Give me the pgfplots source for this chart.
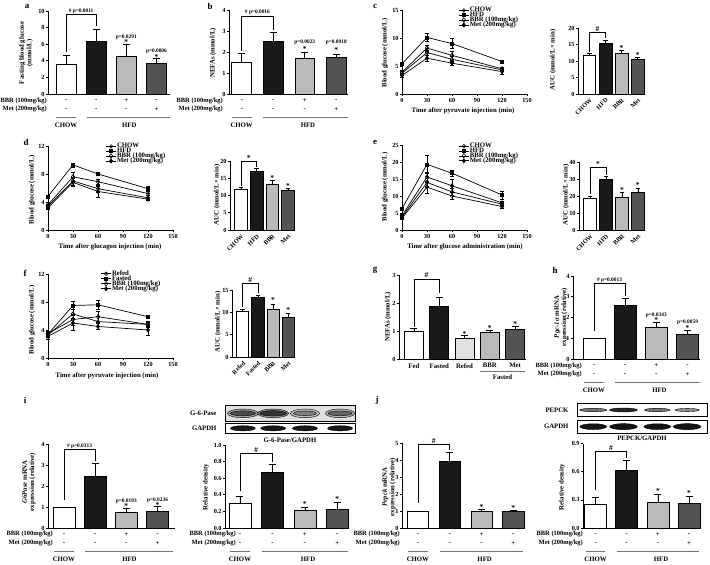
\documentclass[border=0pt]{standalone}
\usepackage{pgfplots}
\pgfplotsset{compat=1.18}
\usepackage{fontspec}
\setmainfont{Liberation Serif}
\newcommand{\fT}{\fontsize{6.3}{6.3}\selectfont\bfseries}
\newcommand{\fL}{\fontsize{6.8}{7.4}\selectfont\bfseries}
\newcommand{\fR}{\fontsize{6.5}{7}\selectfont\bfseries}
\newcommand{\fP}{\fontsize{5.4}{5.6}\selectfont\bfseries}
\newcommand{\fS}{\fontsize{7.5}{7.5}\selectfont\bfseries}
\newcommand{\fB}{\fontsize{9}{9}\selectfont\bfseries}
\tikzset{pv/.style={font=\fP, inner sep=0}, st/.style={font=\fS, inner sep=0}}
\pgfplotsset{
 base/.style={scale only axis, clip=false, anchor=south west, axis lines=left,
   axis line style={-, line width=0.8bp},
   every tick/.style={black, line width=0.6bp}, tick align=outside, major tick length=2.2bp,
   tick label style={font=\fT}, /pgf/number format/assume math mode=true,
   yticklabel style={inner sep=1bp}, xticklabel style={inner sep=1.5bp}},
 lineax/.style={base, xmin=0, xmax=150, xtick={0,30,60,90,120,150}, ymin=0,
   legend style={at={(#1)}, anchor=north west, draw=none, fill=none, font=\fL,
     row sep=-2.4bp, inner sep=0pt, nodes={inner sep=0.6bp}},
   legend cell align=left,
   legend image code/.code={\draw[mark repeat=2,mark phase=2,##1] plot coordinates {(0bp,0bp) (5bp,0bp) (10bp,0bp)};}},
 aucax/.style={base, ymin=0, xmin=-0.7, xmax=3.45, bar width=0.8, xtick={0,1,2,3},
   xtick style={draw=none}, xticklabel style={rotate=45, anchor=north east, inner sep=1bp}},
 barax/.style={base, ymin=0, xtick=\empty},
 bstyle/.style={ybar, bar shift=0pt, draw=black, line width=0.6bp,
   error bars/y dir=plus, error bars/y explicit,
   error bars/error bar style={line width=0.6bp, black},
   error bars/error mark options={rotate=90, mark size=3.5bp, line width=0.6bp, black}},
 bstylesm/.style={bstyle, error bars/error mark options={rotate=90, mark size=2.3bp, line width=0.6bp, black}},
 lnbase/.style={black, line width=0.7bp,
   error bars/y dir=both, error bars/y explicit,
   error bars/error bar style={line width=0.5bp, solid},
   error bars/error mark options={rotate=90, mark size=2bp, line width=0.5bp, solid}},
 sA/.style={lnbase, mark=o, mark size=1.8bp, mark options={fill=white, solid, line width=0.6bp}},
 sB/.style={lnbase, mark=square*, mark size=1.5bp, mark options={fill=black, solid}},
 sC/.style={lnbase, mark=diamond, mark size=2.3bp, mark options={fill=white, solid, line width=0.6bp}},
 sD/.style={lnbase, mark=diamond*, mark size=2bp, mark options={fill=black, solid}},
 blot/.style={scale only axis, anchor=south west, xmin=0, xmax=4, ymin=0, ymax=1,
   xtick=\empty, ytick=\empty, axis line style={line width=0.8bp}, clip=true},
}
\newcommand{\bb}[4]{\addplot[fill=#1, bstyle] coordinates {(#2,#3) +- (0,#4)};}
\newcommand{\bs}[4]{\addplot[fill=#1, bstylesm] coordinates {(#2,#3) +- (0,#4)};}
\newcommand{\brk}[4]{\draw[line width=0.6bp] (axis cs:0,#1) -- (axis cs:0,#2) -- (axis cs:1,#2) -- (axis cs:1,#3);
 \node[font=\fP, anchor=south, inner sep=0.8bp] at (axis cs:0.5,#2) {#4};}
\newcommand{\rowsig}[3]{\node[font=\fL, inner sep=0] at ([yshift=-6.8bp]axis cs:#1,0) {#2};
 \node[font=\fL, inner sep=0] at ([yshift=-15.2bp]axis cs:#1,0) {#3};}
\newcommand{\stdrows}[1]{\rowsig{0}{-}{-}\rowsig{1}{-}{-}\rowsig{2}{+}{-}\rowsig{3}{-}{+}
 \draw[black!55, line width=0.6bp] ([yshift=-23.5bp]axis cs:-0.32,0) -- ([yshift=-23.5bp]axis cs:0.32,0);
 \draw[black!55, line width=0.6bp] ([yshift=-23.5bp]axis cs:0.68,0) -- ([yshift=-23.5bp]axis cs:#1,0);
 \node[font=\fL, inner sep=0] at ([yshift=-31bp]axis cs:0,0) {CHOW};
 \node[font=\fL, inner sep=0] at ([yshift=-31bp]axis cs:2.1,0) {HFD};}
\newcommand{\rowlab}[3]{\node[font=\fR, anchor=east, inner sep=0] at (#1bp,#2bp) {BBR (100mg/kg)};
 \node[font=\fR, anchor=east, inner sep=0] at (#1bp,#3bp) {Met (200mg/kg)};}
\newcommand{\band}[4]{\addplot[only marks, mark=*, mark size=#3, mark options={draw=none, fill=black!#2, xscale=#4}] coordinates {(#1,0.5)};}
\begin{document}
\bfseries
\begin{tikzpicture}
\path[use as bounding box] (0,0) rectangle (710bp,565bp);
% letters
\node[font=\fB] at (27bp,559bp) {a};
\node[font=\fB] at (210bp,559bp) {b};
\node[font=\fB] at (375bp,559bp) {c};
\node[font=\fB] at (26bp,423bp) {d};
\node[font=\fB] at (375bp,423bp) {e};
\node[font=\fB] at (25bp,292bp) {f};
\node[font=\fB] at (375bp,295bp) {g};
\node[font=\fB] at (555bp,295bp) {h};
\node[font=\fB] at (25bp,165bp) {i};
\node[font=\fB] at (377bp,165bp) {j};

% ---------- a ----------
\begin{axis}[barax, at={(48bp,471bp)}, width=122bp, height=83bp, ymax=10, ytick={0,2,4,6,8,10},
  xmin=-0.6, xmax=3.45, bar width=0.68]
\bb{white}{0}{3.6}{1.05}
\bb{black!90}{1}{6.35}{1.4}
\bb{black!27}{2}{4.5}{1.45}
\bb{black!67}{3}{3.75}{0.55}
\brk{5.1}{9.6}{8.2}{\# p=0.0011}
\node[pv] at (axis cs:2,6.8) {p=0.0291}; \node[st] at (axis cs:2,6.2) {*};
\node[pv] at (axis cs:3,5.1) {p=0.0006}; \node[st] at (axis cs:3,4.5) {*};
\stdrows{3.45}
\end{axis}
\rowlab{47}{464.3}{456}
\node[font=\fL, rotate=90, align=center] at (26bp,512bp) {Fasting blood glucose\\(mmol/L)};

% ---------- b ----------
\begin{axis}[barax, at={(229bp,471bp)}, width=119bp, height=84bp, ymax=4, ytick={0,1,2,3,4},
  xmin=-0.4, xmax=3.37, bar width=0.63]
\bb{white}{0}{1.52}{0.42}
\bb{black!90}{1}{2.5}{0.42}
\bb{black!27}{2}{1.7}{0.28}
\bb{black!67}{3}{1.77}{0.13}
\brk{2.05}{3.72}{3.05}{\# p=0.0016}
\node[pv] at (axis cs:2,2.45) {p=0.0023}; \node[st] at (axis cs:2,2.15) {*};
\node[pv] at (axis cs:3,2.45) {p=0.0018}; \node[st] at (axis cs:3,2.1) {*};
\stdrows{3.37}
\end{axis}
\rowlab{223}{464.3}{456}
\node[font=\fL, rotate=90] at (213bp,512bp) {NEFAs (mmol/L)};

% ---------- c line ----------
\begin{axis}[lineax={0.45,1.04}, at={(402bp,471bp)}, width=125bp, height=84bp, ymax=15, ytick={0,5,10,15}]
\addplot[sA] coordinates {(0,3.7) +- (0,0.3) (30,7.4) +- (0,0.5) (60,6.2) +- (0,0.5) (120,4.3) +- (0,0.3)};
\addplot[sB] coordinates {(0,5.4) +- (0,0.3) (30,10.1) +- (0,0.7) (60,9.0) +- (0,0.9) (120,5.8) +- (0,0.3)};
\addplot[sC] coordinates {(0,3.9) +- (0,0.3) (30,8.2) +- (0,0.5) (60,6.9) +- (0,0.8) (120,4.5) +- (0,0.3)};
\addplot[sD] coordinates {(0,3.3) +- (0,0.3) (30,6.4) +- (0,0.6) (60,5.5) +- (0,0.4) (120,4.0) +- (0,0.4)};
\legend{CHOW,HFD,BBR (100mg/kg),Met (200mg/kg)}
\end{axis}
\node[font=\fL, rotate=90] at (385bp,512bp) {Blood glucose (mmol/L)};
\node[font=\fL] at (463bp,454bp) {Time after pyruvate injection (min)};

% ---------- c AUC ----------
\begin{axis}[aucax, at={(578bp,471bp)}, width=67bp, height=66bp, ymax=20, ytick={0,5,10,15,20},
  xticklabels={CHOW,HFD,BBR,Met}]
\bs{white}{0}{11.8}{0.5}
\bs{black!90}{1}{15.5}{0.8}
\bs{black!27}{2}{12.3}{0.9}
\bs{black!67}{3}{10.5}{0.6}
\brk{12.8}{18.6}{16.9}{{\fS\#}}
\node[st] at (axis cs:2,13.8) {*}; \node[st] at (axis cs:3,11.7) {*};
\end{axis}
\node[font=\fL, rotate=90] at (553bp,505bp) {AUC (mmol/L× min)};

% ---------- d line ----------
\begin{axis}[lineax={0.46,1.04}, at={(48bp,335bp)}, width=125bp, height=84bp, ymax=12, ytick={0,4,8,12}]
\addplot[sA] coordinates {(0,3.4) +- (0,0.3) (30,7.0) +- (0,0.6) (60,5.9) +- (0,0.5) (120,4.6) +- (0,0.3)};
\addplot[sB] coordinates {(0,4.8) +- (0,0.2) (30,9.3) +- (0,0.3) (60,8.0) +- (0,0.2) (120,5.9) +- (0,0.3)};
\addplot[sC] coordinates {(0,3.6) +- (0,0.3) (30,7.6) +- (0,0.7) (60,6.9) +- (0,0.4) (120,5.2) +- (0,0.3)};
\addplot[sD] coordinates {(0,3.2) +- (0,0.3) (30,6.8) +- (0,0.6) (60,5.5) +- (0,0.8) (120,4.4) +- (0,0.2)};
\legend{CHOW,HFD,BBR (100mg/kg),Met (200mg/kg)}
\end{axis}
\node[font=\fL, rotate=90] at (32bp,375bp) {Blood glucose (mmol/L)};
\node[font=\fL] at (110bp,318bp) {Time after glucagon injection (min)};

% ---------- d AUC ----------
\begin{axis}[aucax, at={(230bp,335bp)}, width=65bp, height=69bp, ymax=20, ytick={0,5,10,15,20},
  xticklabels={CHOW,HFD,BBR,Met}]
\bs{white}{0}{11.8}{0.6}
\bs{black!90}{1}{17.1}{0.8}
\bs{black!27}{2}{13.2}{1.2}
\bs{black!67}{3}{11.4}{0.7}
\brk{12.8}{19.8}{18.3}{{\fS *}}
\node[st] at (axis cs:2,15.0) {*}; \node[st] at (axis cs:3,12.7) {*};
\end{axis}
\node[font=\fL, rotate=90] at (217bp,370bp) {AUC (mmol/L× min)};

% ---------- e line ----------
\begin{axis}[lineax={0.45,1.03}, at={(402bp,335bp)}, width=125bp, height=85bp, ymax=25, ytick={0,5,10,15,20,25}]
\addplot[sA] coordinates {(0,3.5) +- (0,0.4) (30,12.6) +- (0,1.8) (60,10.0) +- (0,1.0) (120,6.9) +- (0,0.4)};
\addplot[sB] coordinates {(0,6.3) +- (0,0.5) (30,19.3) +- (0,2.7) (60,16.7) +- (0,1.0) (120,10.3) +- (0,1.2)};
\addplot[sC] coordinates {(0,3.8) +- (0,0.4) (30,14.0) +- (0,1.2) (60,11.2) +- (0,1.0) (120,7.6) +- (0,0.5)};
\addplot[sD] coordinates {(0,4.2) +- (0,0.4) (30,15.6) +- (0,1.5) (60,13.0) +- (0,1.8) (120,8.0) +- (0,0.6)};
\legend{CHOW,HFD,BBR (100mg/kg),Met (200mg/kg)}
\end{axis}
\node[font=\fL, rotate=90] at (385bp,378bp) {Blood glucose (mmol/L)};
\node[font=\fL] at (465bp,318bp) {Time after glucose administration (min)};

% ---------- e AUC ----------
\begin{axis}[aucax, at={(579bp,335bp)}, width=66bp, height=68bp, ymax=40, ytick={0,10,20,30,40},
  xticklabels={CHOW,HFD,BBR,Met}]
\bs{white}{0}{18.5}{1.4}
\bs{black!90}{1}{29.6}{2.0}
\bs{black!27}{2}{19.5}{2.5}
\bs{black!67}{3}{22.3}{2.2}
\brk{21}{37}{32.5}{{\fS *}}
\node[st] at (axis cs:2,23.6) {*}; \node[st] at (axis cs:3,26.2) {*};
\end{axis}
\node[font=\fL, rotate=90] at (566bp,370bp) {AUC (mmol/L× min)};

% ---------- f line ----------
\begin{axis}[lineax={0.42,1.05}, at={(48bp,207bp)}, width=125bp, height=84bp, ymax=12, ytick={0,4,8,12}]
\addplot[sA] coordinates {(0,3.3) +- (0,0.3) (30,6.3) +- (0,0.6) (60,5.2) +- (0,0.7) (120,4.8) +- (0,0.3)};
\addplot[sB] coordinates {(0,3.4) +- (0,0.3) (30,7.5) +- (0,0.6) (60,7.6) +- (0,0.6) (120,5.9) +- (0,0.2)};
\addplot[sC] coordinates {(0,3.5) +- (0,0.3) (30,5.5) +- (0,0.8) (60,5.9) +- (0,0.8) (120,4.8) +- (0,0.4)};
\addplot[sD] coordinates {(0,3.1) +- (0,0.4) (30,5.0) +- (0,1.1) (60,4.5) +- (0,0.4) (120,4.0) +- (0,0.7)};
\legend{Refed,Fasted,BBR (100mg/kg),Met (200mg/kg)}
\end{axis}
\node[font=\fL, rotate=90] at (32bp,245bp) {Blood glucose (mmol/L)};
\node[font=\fL] at (107bp,189bp) {Time after pyruvate injection (min)};

% ---------- f AUC ----------
\begin{axis}[aucax, at={(232bp,208bp)}, width=63bp, height=67bp, ymax=15, ytick={0,5,10,15},
  xticklabels={Refed,Fasted,BBR,Met}]
\bs{white}{0}{10.2}{0.5}
\bs{black!90}{1}{13.3}{0.5}
\bs{black!27}{2}{10.6}{1.3}
\bs{black!67}{3}{8.8}{0.9}
\brk{11.2}{16.4}{14.4}{{\fS\#}}
\node[st] at (axis cs:2,12.7) {*}; \node[st] at (axis cs:3,10.6) {*};
\end{axis}
\node[font=\fL, rotate=90] at (218bp,243bp) {AUC (mmol/L× min)};

% ---------- g ----------
\begin{axis}[base, ymin=0, at={(399bp,206bp)}, width=127bp, height=84bp, ymax=3, ytick={0,1,2,3},
  xmin=-0.59, xmax=4.43, bar width=0.75, xtick={0,1,2,3,4}, xtick style={draw=none},
  xticklabels={Fed,Fasted,Refed,BBR,Met}, xticklabel style={font=\fL, inner sep=2bp}]
\bb{white}{0}{1.0}{0.08}
\bb{black!90}{1}{1.88}{0.32}
\bb{black!12}{2}{0.73}{0.1}
\bb{black!27}{3}{0.95}{0.07}
\bb{black!67}{4}{1.07}{0.1}
\brk{1.15}{2.86}{2.35}{{\fS\#}}
\node[st] at (axis cs:2,0.9) {*}; \node[st] at (axis cs:3,1.09) {*}; \node[st] at (axis cs:4,1.25) {*};
\draw[black!55, line width=0.6bp] ([yshift=-12.7bp]axis cs:2.6,0) -- ([yshift=-12.7bp]axis cs:4.4,0);
\node[font=\fL, inner sep=0] at ([yshift=-18.5bp]axis cs:3.5,0) {Fasted};
\end{axis}
\node[font=\fL, rotate=90] at (388bp,248bp) {NEFAs (mmol/L)};

% ---------- h ----------
\begin{axis}[barax, at={(573bp,206bp)}, width=127bp, height=83bp, ymax=4, ytick={0,1,2,3,4},
  xmin=-0.67, xmax=3.4, bar width=0.7]
\bb{white}{0}{1.0}{0}
\bb{black!90}{1}{2.57}{0.36}
\bb{black!27}{2}{1.52}{0.25}
\bb{black!67}{3}{1.18}{0.19}
\brk{1.35}{3.65}{3.05}{\# p=0.0013}
\node[pv] at (axis cs:2,2.12) {p=0.0343}; \node[st] at (axis cs:2,1.86) {*};
\node[pv] at (axis cs:3,1.78) {p=0.0059}; \node[st] at (axis cs:3,1.5) {*};
\stdrows{3.4}
\end{axis}
\rowlab{582}{199.3}{191}
\node[font=\fL, rotate=90, align=center] at (561bp,248bp) {\textit{Pgc-1α} mRNA\\expression (relative)};

% ---------- i left ----------
\begin{axis}[barax, at={(48bp,37bp)}, width=127bp, height=83.5bp, ymax=4, ytick={0,1,2,3,4},
  xmin=-0.51, xmax=3.56, bar width=0.7]
\bb{white}{0}{1.0}{0}
\bb{black!90}{1}{2.5}{0.6}
\bb{black!27}{2}{0.75}{0.2}
\bb{black!67}{3}{0.82}{0.2}
\brk{1.35}{3.75}{3.2}{\# p=0.0313}
\node[pv] at (axis cs:2,1.27) {p=0.0193}; \node[st] at (axis cs:2,1.03) {*};
\node[pv] at (axis cs:3,1.32) {p=0.0236}; \node[st] at (axis cs:3,1.1) {*};
\stdrows{3.5}
\end{axis}
\rowlab{53}{30.7}{22.3}
\node[font=\fL, rotate=90, align=center] at (29bp,83bp) {\textit{G6Pase} mRNA\\expression (relative)};

% ---------- i blot ----------
\begin{axis}[blot, at={(225bp,143.3bp)}, width=130bp, height=16.7bp, axis background/.style={fill=black!12}]
\band{0.55}{35}{4.3bp}{3.6}\band{1.48}{40}{4.3bp}{3.6}\band{2.46}{25}{4.3bp}{3.4}\band{3.54}{30}{4.3bp}{3.4}
\band{0.55}{70}{2.5bp}{5}\band{1.48}{80}{2.7bp}{5}\band{2.46}{50}{2.3bp}{5}\band{3.54}{60}{2.4bp}{5}
\end{axis}
\begin{axis}[blot, at={(225bp,131.7bp)}, width=130bp, height=10bp]
\band{0.55}{90}{2.6bp}{4.8}\band{1.48}{90}{2.6bp}{4.8}\band{2.46}{90}{2.6bp}{4.8}\band{3.54}{90}{2.6bp}{4.8}
\end{axis}
\node[font=\fL, anchor=east] at (220bp,151.5bp) {G-6-Pase};
\node[font=\fL, anchor=east] at (220bp,136.7bp) {GAPDH};
\node[font=\fL] at (290bp,125bp) {G-6-Pase/GAPDH};

% ---------- i right ----------
\begin{axis}[barax, at={(225bp,37bp)}, width=123bp, height=83bp, ymax=1, ytick={0,0.2,0.4,0.6,0.8,1.0},
  yticklabel style={/pgf/number format/.cd, fixed, fixed zerofill, precision=1},
  xmin=-0.46, xmax=3.33, bar width=0.68]
\bb{white}{0}{0.3}{0.085}
\bb{black!90}{1}{0.67}{0.1}
\bb{black!27}{2}{0.21}{0.04}
\bb{black!67}{3}{0.22}{0.09}
\brk{0.44}{0.9}{0.8}{{\fS\#}}
\node[st] at (axis cs:2,0.285) {*}; \node[st] at (axis cs:3,0.345) {*};
\stdrows{3.33}
\end{axis}
\rowlab{236}{30.7}{22.3}
\node[font=\fL, rotate=90] at (206bp,78bp) {Relative density};

% ---------- j left ----------
\begin{axis}[barax, at={(402bp,37bp)}, width=123bp, height=84.5bp, ymax=5, ytick={0,1,2,3,4,5},
  xmin=-0.5, xmax=3.37, bar width=0.67]
\bb{white}{0}{1.0}{0}
\bb{black!90}{1}{3.95}{0.5}
\bb{black!27}{2}{0.97}{0.13}
\bb{black!67}{3}{0.97}{0.08}
\brk{1.5}{4.95}{4.6}{{\fS\#}}
\node[st] at (axis cs:2,1.25) {*}; \node[st] at (axis cs:3,1.17) {*};
\stdrows{3.3}
\end{axis}
\rowlab{400}{30.7}{22.3}
\node[font=\fL, rotate=90, align=center] at (389bp,78bp) {\textit{Pepck} mRNA\\expression (relative)};

% ---------- j blot ----------
\begin{axis}[blot, at={(577bp,148.3bp)}, width=130bp, height=13.4bp]
\band{0.5}{55}{1.7bp}{8}\band{1.43}{85}{2bp}{7}\band{2.47}{55}{1.7bp}{7.5}\band{3.39}{45}{1.6bp}{7.5}
\end{axis}
\begin{axis}[blot, at={(577bp,131.7bp)}, width=130bp, height=13.3bp]
\band{0.5}{92}{2.9bp}{4.6}\band{1.43}{92}{3bp}{4.6}\band{2.47}{92}{2.9bp}{4.6}\band{3.39}{92}{3bp}{4.6}
\end{axis}
\node[font=\fL, anchor=east] at (572bp,155bp) {PEPCK};
\node[font=\fL, anchor=east] at (572bp,138.3bp) {GAPDH};
\node[font=\fL] at (642bp,127bp) {PEPCK/GAPDH};

% ---------- j right ----------
\begin{axis}[barax, at={(583bp,37bp)}, width=117bp, height=84.5bp, ymax=0.9, ytick={0,0.3,0.6,0.9},
  yticklabel style={/pgf/number format/.cd, fixed, fixed zerofill, precision=1},
  xmin=-0.4, xmax=3.35, bar width=0.7]
\bb{white}{0}{0.25}{0.08}
\bb{black!90}{1}{0.61}{0.11}
\bb{black!27}{2}{0.27}{0.09}
\bb{black!67}{3}{0.26}{0.08}
\brk{0.4}{0.82}{0.75}{{\fS\#}}
\node[st] at (axis cs:2,0.395) {*}; \node[st] at (axis cs:3,0.375) {*};
\stdrows{3.33}
\end{axis}
\rowlab{583}{30.7}{22.3}
\node[font=\fL, rotate=90] at (562bp,78bp) {Relative density};
\end{tikzpicture}
\end{document}
